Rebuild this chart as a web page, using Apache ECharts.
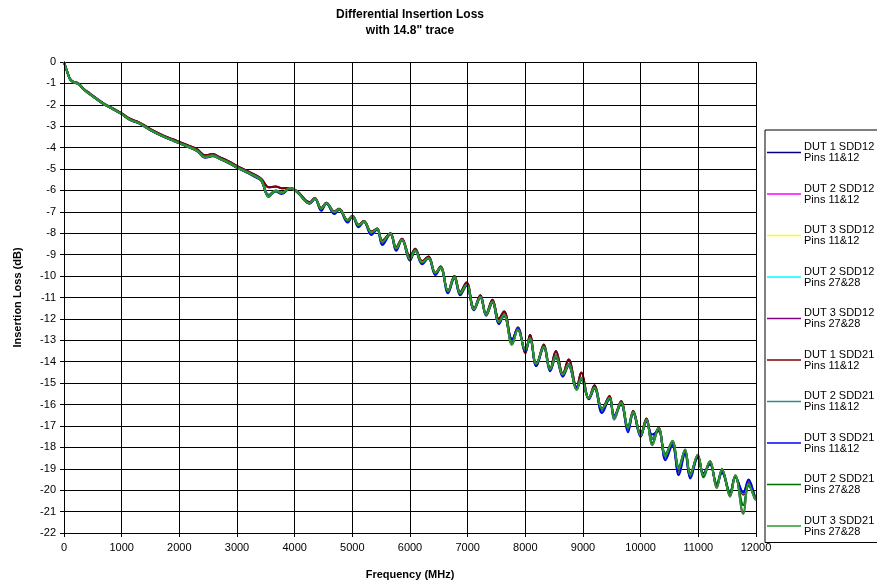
<!DOCTYPE html>
<html>
<head>
<meta charset="utf-8">
<script src="https://cdn.jsdelivr.net/npm/echarts@6/dist/echarts.min.js"></script>
<style>
  html, body { margin: 0; padding: 0; background: #fff; }
  #chart { width: 877px; height: 588px; }
</style>
</head>
<body>
<div id="chart"></div>
<script>
// frequency points (MHz), shared by all traces
const freq = [
  0, 50, 100, 150, 250, 350, 450, 550, 700, 850,
  1000, 1150, 1300, 1500, 1700, 1900, 2100, 2300, 2450, 2580,
  2700, 2850, 3000, 3150, 3300, 3420, 3550, 3670, 3780, 3920,
  4050, 4260, 4350, 4460, 4550, 4690, 4770, 4920, 5000, 5110,
  5200, 5330, 5430, 5520, 5660, 5760, 5860, 6000, 6090, 6210,
  6320, 6440, 6530, 6660, 6770, 6870, 6980, 7110, 7220, 7320,
  7430, 7540, 7630, 7770, 7870, 8000, 8080, 8190, 8320, 8430,
  8530, 8650, 8750, 8890, 8970, 9100, 9200, 9330, 9460, 9540,
  9660, 9780, 9870, 10000, 10100, 10200, 10310, 10430, 10550, 10660,
  10770, 10860, 10990, 11090, 11200, 11320, 11410, 11550, 11640, 11780,
  11870, 11980, 12000
];

// insertion loss (dB)
const dut1_p1112 = [
  0, -0.4, -0.76, -0.9, -1.0, -1.27, -1.47, -1.67, -1.95, -2.17,
  -2.4, -2.66, -2.82, -3.13, -3.4, -3.62, -3.84, -4.06, -4.35, -4.3,
  -4.45, -4.63, -4.86, -5.05, -5.25, -5.45, -5.85, -5.82, -5.9, -5.88,
  -6.05, -6.55, -6.35, -6.82, -6.58, -6.98, -6.86, -7.38, -7.18, -7.6,
  -7.43, -7.92, -7.78, -8.35, -8.0, -8.65, -8.25, -9.1, -8.72, -9.3,
  -9.08, -9.85, -9.55, -10.7, -10.0, -10.75, -10.3, -11.5, -10.9, -11.75,
  -11.1, -12.0, -11.65, -13.0, -12.4, -13.6, -12.75, -14.2, -13.2, -14.35,
  -13.5, -14.55, -13.9, -15.2, -14.5, -15.7, -15.1, -16.2, -15.6, -16.6,
  -15.85, -17.1, -16.3, -17.4, -16.65, -17.6, -17.1, -18.5, -17.8, -19.1,
  -18.2, -19.3, -18.4, -19.25, -18.7, -19.8, -19.1, -20.2, -19.35, -20.2,
  -19.6, -20.3, -20.4
];
const dut2_p1112 = [
  0, -0.41, -0.77, -0.92, -1.02, -1.3, -1.5, -1.7, -1.98, -2.2,
  -2.43, -2.7, -2.86, -3.17, -3.44, -3.67, -3.89, -4.12, -4.42, -4.36,
  -4.5, -4.68, -4.91, -5.1, -5.3, -5.5, -6.2, -6.0, -6.1, -5.88,
  -6.07, -6.6, -6.38, -6.9, -6.6, -7.05, -6.88, -7.45, -7.2, -7.66,
  -7.45, -8.0, -7.8, -8.45, -8.03, -8.75, -8.3, -9.22, -8.8, -9.4,
  -9.15, -9.9, -9.6, -10.75, -10.05, -10.85, -10.42, -11.55, -10.98, -11.8,
  -11.2, -12.2, -11.8, -13.05, -12.45, -13.5, -12.9, -14.15, -13.3, -14.4,
  -13.7, -14.65, -14.1, -15.25, -14.75, -15.72, -15.2, -16.3, -15.7, -16.7,
  -15.95, -17.2, -16.4, -17.5, -16.75, -17.6, -17.2, -18.5, -17.85, -19.2,
  -18.25, -19.4, -18.45, -19.25, -18.75, -19.75, -19.15, -20.15, -19.4, -20.15,
  -19.55, -20.3, -20.4
];
const dut3_p1112 = [
  0, -0.42, -0.78, -0.93, -1.03, -1.31, -1.51, -1.71, -1.99, -2.21,
  -2.44, -2.71, -2.87, -3.19, -3.46, -3.69, -3.91, -4.15, -4.47, -4.4,
  -4.53, -4.72, -4.95, -5.14, -5.35, -5.55, -6.28, -6.05, -6.17, -5.9,
  -6.1, -6.62, -6.4, -6.95, -6.62, -7.1, -6.9, -7.5, -7.22, -7.72,
  -7.47, -8.08, -7.82, -8.55, -8.05, -8.82, -8.32, -9.28, -8.82, -9.45,
  -9.17, -9.95, -9.62, -10.8, -10.1, -10.9, -10.45, -11.6, -11.0, -11.85,
  -11.25, -12.25, -11.85, -12.95, -12.45, -13.5, -12.95, -14.2, -13.35, -14.45,
  -13.8, -14.7, -14.2, -15.2, -14.85, -15.75, -15.25, -16.4, -15.75, -16.5,
  -16.0, -17.3, -16.4, -17.5, -16.8, -17.4, -17.25, -18.6, -17.9, -19.3,
  -18.3, -19.45, -18.5, -19.2, -18.8, -19.7, -19.2, -20.1, -19.4, -20.1,
  -19.5, -20.3, -20.4
];
const dut2_p2728 = [
  0, -0.42, -0.78, -0.92, -1.02, -1.3, -1.5, -1.7, -1.98, -2.2,
  -2.43, -2.7, -2.86, -3.18, -3.45, -3.68, -3.9, -4.14, -4.44, -4.38,
  -4.52, -4.7, -4.93, -5.12, -5.32, -5.52, -6.28, -6.02, -6.12, -5.88,
  -6.08, -6.6, -6.38, -6.86, -6.6, -7.02, -6.88, -7.42, -7.2, -7.64,
  -7.45, -7.97, -7.8, -8.42, -8.02, -8.72, -8.3, -9.2, -8.8, -9.37,
  -9.15, -9.87, -9.6, -10.72, -10.05, -10.82, -10.4, -11.55, -10.98, -11.8,
  -11.2, -12.15, -11.8, -13.15, -12.5, -13.45, -12.9, -14.1, -13.3, -14.35,
  -13.75, -14.6, -14.15, -15.3, -14.8, -15.7, -15.2, -16.2, -15.7, -16.6,
  -15.95, -17.0, -16.4, -17.4, -16.75, -17.8, -17.15, -18.3, -17.75, -18.9,
  -18.15, -19.2, -18.4, -19.4, -18.7, -19.7, -19.05, -20.1, -19.35, -20.7,
  -19.8, -20.3, -20.4
];
const dut3_p2728 = [
  0, -0.42, -0.78, -0.92, -1.02, -1.3, -1.5, -1.7, -1.98, -2.2,
  -2.43, -2.7, -2.86, -3.18, -3.45, -3.68, -3.9, -4.14, -4.45, -4.38,
  -4.52, -4.7, -4.93, -5.12, -5.32, -5.52, -6.3, -6.02, -6.12, -5.88,
  -6.08, -6.6, -6.38, -6.85, -6.6, -7.0, -6.88, -7.4, -7.2, -7.62,
  -7.45, -7.95, -7.8, -8.4, -8.02, -8.7, -8.3, -9.2, -8.8, -9.35,
  -9.15, -9.85, -9.6, -10.7, -10.05, -10.8, -10.4, -11.55, -10.98, -11.8,
  -11.2, -12.15, -11.8, -13.2, -12.5, -13.45, -12.9, -14.1, -13.3, -14.35,
  -13.75, -14.6, -14.15, -15.3, -14.8, -15.7, -15.2, -16.2, -15.7, -16.6,
  -15.9, -17.1, -16.35, -17.45, -16.7, -17.9, -17.1, -18.4, -17.7, -19.0,
  -18.1, -19.3, -18.35, -19.3, -18.65, -19.9, -19.0, -20.3, -19.3, -21.1,
  -19.7, -20.4, -20.45
];

// legend order; SDD12 overlays its SDD21 twin (passive trace, reciprocal)
const names = [
  "DUT 1 SDD12\nPins 11&12", "DUT 2 SDD12\nPins 11&12", "DUT 3 SDD12\nPins 11&12",
  "DUT 2 SDD12\nPins 27&28", "DUT 3 SDD12\nPins 27&28",
  "DUT 1 SDD21\nPins 11&12", "DUT 2 SDD21\nPins 11&12", "DUT 3 SDD21\nPins 11&12",
  "DUT 2 SDD21\nPins 27&28", "DUT 3 SDD21\nPins 27&28"
];
const traces = [
  dut1_p1112, dut2_p1112, dut3_p1112, dut2_p2728, dut3_p2728,
  dut1_p1112, dut2_p1112, dut3_p1112, dut2_p2728, dut3_p2728
];
const colors = [
  "#000080", "#FF00FF", "#FFFF00", "#00FFFF", "#800080",
  "#800000", "#2E8B8B", "#0000FF", "#006E00", "#2E962E"
];

const xTicks = { min: 0, max: 12000, step: 1000 };
const yTicks = { min: -22, max: 0, step: 1 };

const font = "Liberation Sans";
let chart = echarts.init(document.getElementById("chart"));

let option = {
  animation: false,
  color: colors,
  textStyle: { fontFamily: font },
  graphic: [
    {
      type: "text",
      x: 410,
      y: 7,
      style: {
        text: 'Differential Insertion Loss\nwith 14.8" trace',
        font: "bold 12px " + font,
        lineHeight: 16,
        textAlign: "center",
        textVerticalAlign: "top",
        fill: "#000"
      }
    }
  ],
  grid: { left: 64, top: 62, width: 692, height: 471, containLabel: false },
  legend: {
    orient: "vertical",
    left: 765,
    top: 130,
    z: 1,
    padding: [6, 6, 0, 2],
    itemGap: 8.5,
    itemWidth: 34,
    itemHeight: 1.5,
    icon: "rect",
    borderColor: "#000",
    borderWidth: 1,
    backgroundColor: "#fff",
    data: names,
    textStyle: {
      fontSize: 11,
      lineHeight: 11,
      color: "#000",
      padding: [11, 0, 0, -2]
    }
  },
  xAxis: {
    type: "value",
    z: 10,
    min: xTicks.min,
    max: xTicks.max,
    interval: xTicks.step,
    name: "Frequency (MHz)",
    nameLocation: "middle",
    nameGap: 36,
    nameTextStyle: { fontSize: 11, fontWeight: "bold", color: "#000" },
    axisLine: { onZero: false, lineStyle: { color: "#000", width: 1 } },
    axisTick: { show: true, length: 4, lineStyle: { color: "#000" } },
    axisLabel: {
      fontSize: 11,
      color: "#000",
      margin: 9,
      formatter: function (v) { return String(v); }
    },
    splitLine: { show: true, lineStyle: { color: "#000", width: 1 } }
  },
  yAxis: {
    type: "value",
    min: yTicks.min,
    max: yTicks.max,
    interval: yTicks.step,
    name: "Insertion Loss (dB)",
    nameLocation: "middle",
    nameGap: 41,
    nameTextStyle: { fontSize: 11, fontWeight: "bold", color: "#000" },
    axisLine: { onZero: false, lineStyle: { color: "#000", width: 1 } },
    axisTick: { show: true, length: 4, lineStyle: { color: "#000" } },
    axisLabel: { fontSize: 11, color: "#000", margin: 8 },
    splitLine: { show: true, lineStyle: { color: "#000", width: 1 } }
  },
  series: names.map(function (n, k) {
    return {
      name: n,
      type: "line",
      symbol: "none",
      smooth: 0.4,
      lineStyle: { width: 2 },
      data: freq.map(function (f, i) {
        return [f, traces[k][i]];
      })
    };
  })
};

chart.setOption(option);
window.addEventListener("resize", () => {
  chart.resize();
});
</script>
</body>
</html>
